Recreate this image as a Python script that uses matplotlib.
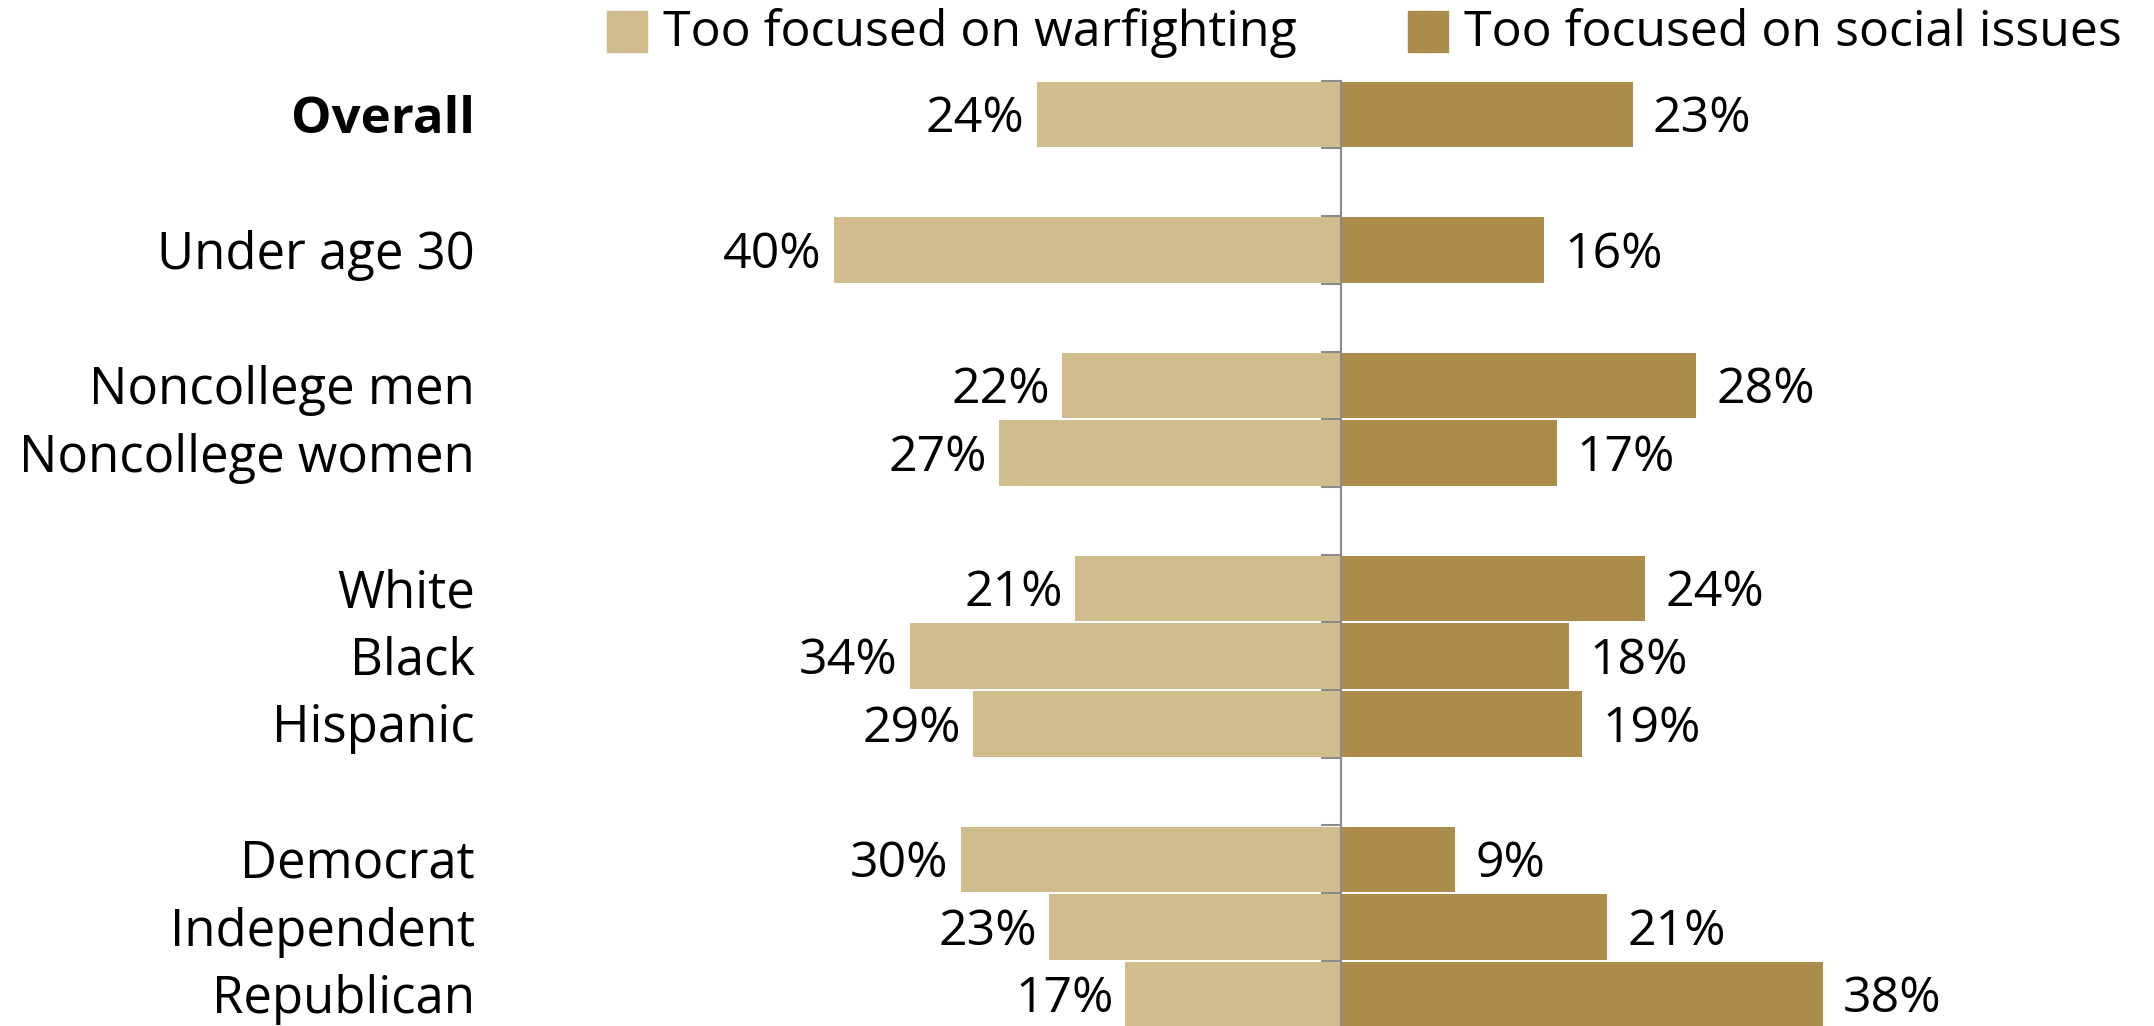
import matplotlib
matplotlib.use("Agg")
import matplotlib.pyplot as plt
import matplotlib.transforms as mtransforms
import numpy as np

categories = ["Overall", "", "Under age 30", "", "Noncollege men", "Noncollege women", "",
              "White", "Black", "Hispanic", "", "Democrat", "Independent", "Republican"]
warfighting = [24, None, 40, None, 22, 27, None, 21, 34, 29, None, 30, 23, 17]
social = [23, None, 16, None, 28, 17, None, 24, 18, 19, None, 9, 21, 38]
series_names = ["Too focused on warfighting", "Too focused on social issues"]

LIGHT = "#D1BC8E"
DARK = "#AB8C4A"
AXIS = "#8C8C8C"
FS = 36
FS_CAT = 36.6
DY = 0.075  # small downward shift of text to match baseline

plt.rcParams["font.family"] = ["Open Sans", "DejaVu Sans"]

W, H = 2154, 1026
fig = plt.figure(figsize=(W / 100, H / 100), dpi=100)

pitch = 67.7
top_px = 80.7
n = len(categories)
bottom_px = top_px + n * pitch
center_px = 1341
ppu = 12.68
left_px = 600
ax = fig.add_axes([left_px / W, (H - bottom_px) / H, 1 - left_px / W, (bottom_px - top_px) / H])
ax.set_xlim(-(center_px - left_px) / ppu, (W - center_px) / ppu)
ax.set_ylim(n - 0.5, -0.5)
ax.axis("off")

for i, (w, s) in enumerate(zip(warfighting, social)):
    if w is None:
        continue
    ax.barh(i, -w, height=0.965, color=LIGHT, zorder=2)
    ax.barh(i, s, height=0.965, color=DARK, zorder=2)
    ax.text(-w - 0.95, i + DY, f"{w}%", ha="right", va="center", fontsize=FS, color="black")
    ax.text(s + 1.6, i + DY, f"{s}%", ha="left", va="center", fontsize=FS, color="black")

# center axis line and ticks
ax.plot([0, 0], [-0.5, n - 0.5], color=AXIS, lw=1.5, zorder=3, clip_on=False)
tick_len = 19 / ppu
for b in np.arange(-0.5, n - 0.4, 1.0):
    ax.plot([-tick_len, 0], [b, b], color=AXIS, lw=1.5, zorder=1, clip_on=False)

# category labels
trans = mtransforms.blended_transform_factory(fig.transFigure, ax.transData)
for i, c in enumerate(categories):
    if not c:
        continue
    ax.text(475 / W, i + DY, c, transform=trans, ha="right", va="center", fontsize=FS_CAT,
            fontweight="bold" if c == "Overall" else "normal", clip_on=False)

# legend
leg_y = 1 - 33 / H
for x0, col, name in [(607, LIGHT, series_names[0]), (1408, DARK, series_names[1])]:
    fig.patches.append(plt.Rectangle((x0 / W, 1 - 52 / H), 40 / W, 41 / H,
                                     transform=fig.transFigure, color=col))
    fig.text((x0 + 56) / W, leg_y, name, ha="left", va="center", fontsize=FS)

fig.savefig("out.png", dpi=100)
